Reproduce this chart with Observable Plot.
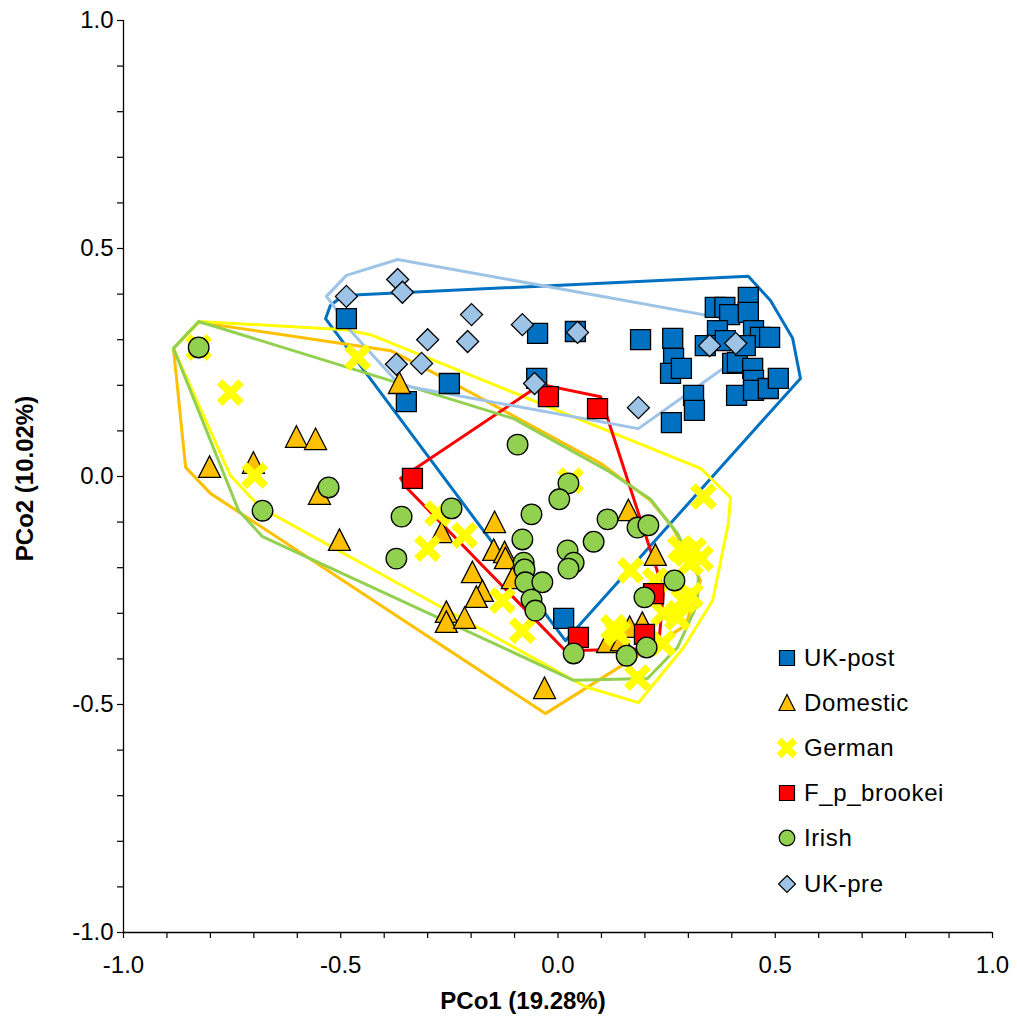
<!DOCTYPE html>
<html>
<head>
<meta charset="utf-8">
<script src="https://cdn.jsdelivr.net/npm/d3@7"></script>
<script src="https://cdn.jsdelivr.net/npm/@observablehq/plot@0.6"></script>
<style>
  body { margin: 0; background: #fff; font-family: "Liberation Sans", Arial, sans-serif; }
  #wrap { position: relative; width: 1017px; height: 1023px; }
  #legend { position: absolute; left: 776px; top: 635px; }
  .row { display: flex; align-items: center; height: 45.2px; font-size: 24px; letter-spacing: 0.6px; color: #000; }
  .row svg { width: 22px; height: 24px; margin-right: 6px; flex: none; }
</style>
</head>
<body>
<div id="wrap"><div id="legend"></div></div>
<script>
// ---------- data ----------
const seriesNames = ["UK-post", "Domestic", "German", "F_p_brookei", "Irish", "UK-pre"];
const seriesColors = ["#0070C0", "#FFC000", "#FFFF00", "#FF0000", "#92D050", "#9DC3E6"];

const ukPost = [
  [-0.487,0.346],[-0.349,0.164],[-0.250,0.204],[-0.047,0.314],[-0.049,0.215],[0.040,0.318],
  [0.013,-0.311],[0.190,0.300],[0.264,0.303],[0.266,0.259],[0.259,0.226],[0.284,0.237],
  [0.312,0.178],[0.314,0.145],[0.261,0.118],[0.362,0.371],[0.384,0.371],[0.395,0.355],
  [0.438,0.393],[0.438,0.360],[0.367,0.320],[0.385,0.298],[0.339,0.287],[0.450,0.320],
  [0.466,0.305],[0.487,0.305],[0.402,0.248],[0.413,0.250],[0.448,0.237],[0.450,0.211],
  [0.411,0.178],[0.450,0.189],[0.484,0.193],[0.507,0.215],[0.431,0.287]
];
const domestic = [
  [-0.802,0.020],[-0.701,0.029],[-0.602,0.086],[-0.558,0.081],[-0.549,-0.039],[-0.503,-0.140],
  [-0.365,0.204],[-0.268,-0.123],[-0.257,-0.298],[-0.257,-0.320],[-0.215,-0.311],[-0.197,-0.211],
  [-0.174,-0.252],[-0.188,-0.265],[-0.146,-0.101],[-0.148,-0.162],[-0.123,-0.167],[-0.121,-0.180],
  [-0.105,-0.224],[-0.031,-0.465],[0.162,-0.075],[0.224,-0.173],[0.194,-0.322],[0.165,-0.331],
  [0.114,-0.364],[0.146,-0.360]
];
const german = [
  [-0.827,0.283],[-0.754,0.184],[-0.698,0.002],[-0.461,0.261],[-0.277,-0.081],[-0.300,-0.158],
  [-0.215,-0.129],[-0.128,-0.272],[-0.082,-0.338],[0.029,-0.009],[0.335,-0.044],[0.296,-0.169],
  [0.312,-0.162],[0.328,-0.180],[0.305,-0.189],[0.282,-0.158],[0.167,-0.206],[0.224,-0.228],
  [0.289,-0.272],[0.305,-0.261],[0.243,-0.300],[0.275,-0.309],[0.128,-0.331],[0.241,-0.366],
  [0.183,-0.441],[0.137,-0.344]
];
const brookei = [
  [-0.335,-0.004],[-0.022,0.175],[0.091,0.149],[0.047,-0.353],[0.199,-0.346],[0.220,-0.257]
];
const irish = [
  [-0.827,0.283],[-0.680,-0.075],[-0.528,-0.024],[-0.360,-0.088],[-0.372,-0.180],[-0.245,-0.070],
  [-0.093,0.070],[0.024,-0.015],[0.003,-0.050],[-0.061,-0.083],[0.114,-0.094],[0.183,-0.112],
  [0.208,-0.107],[-0.082,-0.138],[0.082,-0.143],[0.022,-0.162],[0.036,-0.189],[0.024,-0.202],
  [-0.079,-0.189],[-0.077,-0.204],[-0.075,-0.232],[-0.036,-0.232],[-0.061,-0.270],[-0.052,-0.294],
  [0.036,-0.388],[0.268,-0.228],[0.199,-0.265],[0.204,-0.375],[0.158,-0.393]
];
const ukPre = [
  [-0.487,0.395],[-0.369,0.432],[-0.358,0.404],[-0.199,0.355],[-0.300,0.300],[-0.208,0.296],
  [-0.372,0.246],[-0.314,0.248],[-0.082,0.333],[0.045,0.316],[-0.054,0.204],[0.185,0.151],
  [0.349,0.287],[0.409,0.292]
];

// hull outlines (vertices)
const hullUkPost = [[-0.494,0.397],[0.438,0.439],[0.489,0.386],[0.540,0.303],[0.558,0.215],[0.017,-0.360],[-0.535,0.346],[-0.524,0.375]];
const hullDomestic = [[-0.827,0.338],[-0.385,0.276],[-0.243,0.206],[0.098,0.029],[0.213,-0.053],[0.264,-0.112],[0.328,-0.228],[0.293,-0.327],[-0.029,-0.520],[-0.800,-0.037],[-0.857,0.020],[-0.885,0.281]];
const hullGerman = [[-0.827,0.340],[-0.489,0.322],[-0.432,0.311],[0.328,0.018],[0.397,-0.046],[0.392,-0.103],[0.356,-0.272],[0.289,-0.375],[0.185,-0.496],[0.063,-0.461],[-0.685,-0.068],[-0.754,0.002],[-0.885,0.281]];
const hullBrookei = [[-0.362,-0.004],[-0.040,0.202],[0.098,0.175],[0.243,-0.250],[0.231,-0.377],[0.017,-0.382],[-0.351,-0.022]];
const hullIrish = [[-0.827,0.340],[-0.102,0.127],[0.114,0.013],[0.213,-0.050],[0.275,-0.125],[0.323,-0.217],[0.321,-0.279],[0.275,-0.375],[0.206,-0.443],[0.036,-0.447],[-0.680,-0.132],[-0.735,-0.075],[-0.885,0.281]];
const hullUkPre = [[-0.369,0.476],[-0.487,0.441],[-0.533,0.395],[-0.517,0.375],[-0.478,0.320],[-0.369,0.206],[-0.333,0.195],[0.185,0.105],[0.448,0.283],[0.432,0.338]];

const majorTicks = [-1, -0.5, 0, 0.5, 1];
const minorTicks = d3.range(-10, 11).map(i => i / 10);
const xTitle = "PCo1 (19.28%)";
const yTitle = "PCo2 (10.02%)";

// ---------- marker shapes ----------
function squareSym(h) { return { draw(c) { c.moveTo(-h,-h); c.lineTo(h,-h); c.lineTo(h,h); c.lineTo(-h,h); c.closePath(); } }; }
function circleSym(r) { return { draw(c) { c.moveTo(r,0); c.arc(0,0,r,0,2*Math.PI); c.closePath(); } }; }
function triSym(w, top, bot) { return { draw(c) { c.moveTo(0,-top); c.lineTo(w,bot); c.lineTo(-w,bot); c.closePath(); } }; }
function diaSym(h) { return { draw(c) { c.moveTo(0,-h); c.lineTo(h,0); c.lineTo(0,h); c.lineTo(-h,0); c.closePath(); } }; }
function xSym(L, t) {
  const pts = [[t,-L],[t,-t],[L,-t],[L,t],[t,t],[t,L],[-t,L],[-t,t],[-L,t],[-L,-t],[-t,-t],[-t,-L]]
    .map(([x,y]) => [(x - y)/Math.SQRT2, (x + y)/Math.SQRT2]);
  return { draw(c) { c.moveTo(pts[0][0], pts[0][1]); for (let i = 1; i < pts.length; i++) c.lineTo(pts[i][0], pts[i][1]); c.closePath(); } };
}
function symbolPath(sym) { const p = d3.path(); sym.draw(p); return p.toString(); }

const bigSyms = [squareSym(10), triSym(11, 11.5, 10), xSym(15, 4), squareSym(10), circleSym(10.3), diaSym(11)];
const smallSyms = [squareSym(7.5), triSym(8, 8.5, 7.5), xSym(11, 3.5), squareSym(7.5), circleSym(7.8), diaSym(8.5)];
const allPoints = [ukPost, domestic, german, brookei, irish, ukPre];
const allHulls = [hullUkPost, hullDomestic, hullGerman, hullBrookei, hullIrish, hullUkPre];

const close = h => h.concat([h[0]]);

const marks = [];
allHulls.forEach((h, i) => {
  marks.push(Plot.line(close(h), { x: d => d[0], y: d => d[1], stroke: seriesColors[i], strokeWidth: 3, strokeLinejoin: "round" }));
});
allPoints.forEach((pts, i) => {
  const isX = seriesNames[i] === "German";
  marks.push(Plot.dot(pts, {
    x: d => d[0], y: d => d[1], symbol: bigSyms[i], fill: seriesColors[i],
    stroke: isX ? "none" : "#000", strokeWidth: 1.3
  }));
});

const chart = Plot.plot({
  width: 1017, height: 1023,
  marginLeft: 123, marginRight: 25, marginTop: 20, marginBottom: 91,
  style: { fontFamily: "'Liberation Sans', Arial, sans-serif", fontSize: "24px", background: "#fff", color: "#000" },
  x: { domain: [-1, 1] },
  y: { domain: [-1, 1] },
  marks: [
    ...marks,
    Plot.axisX({ ticks: minorTicks, tickSize: 6, tickFormat: () => "", label: null, strokeWidth: 1.2 }),
    Plot.axisY({ ticks: minorTicks, tickSize: 6, tickFormat: () => "", label: null, strokeWidth: 1.2 }),
    Plot.axisX({ ticks: majorTicks, tickSize: 0, tickPadding: 23, tickFormat: d => d.toFixed(1), label: null, fontSize: 24 }),
    Plot.axisY({ ticks: majorTicks, tickSize: 0, tickPadding: 10, tickFormat: d => d.toFixed(1), label: null, fontSize: 24 }),
    Plot.ruleY([-1], { stroke: "#000", strokeWidth: 1.3 }),
    Plot.ruleX([-1], { stroke: "#000", strokeWidth: 1.3 }),
    Plot.text([xTitle], { text: d => d, frameAnchor: "bottom", textAnchor: "middle", dx: -35, dy: 69, lineAnchor: "middle", fontWeight: "bold", fontSize: 24, letterSpacing: "1.2px" }),
    Plot.text([yTitle], { text: d => d, frameAnchor: "left", textAnchor: "middle", dx: -98, dy: 2, rotate: -90, lineAnchor: "middle", fontWeight: "bold", fontSize: 24, letterSpacing: "1.2px" })
  ]
});
document.getElementById("wrap").prepend(chart);

// ---------- legend ----------
const legend = document.getElementById("legend");
seriesNames.forEach((name, i) => {
  const row = document.createElement("div");
  row.className = "row";
  const isX = name === "German";
  row.innerHTML = `<svg viewBox="-11 -12 22 24"><path d="${symbolPath(smallSyms[i])}" fill="${seriesColors[i]}" stroke="${isX ? "none" : "#000"}" stroke-width="1.2"/></svg><span>${name}</span>`;
  legend.appendChild(row);
});
</script>
</body>
</html>
